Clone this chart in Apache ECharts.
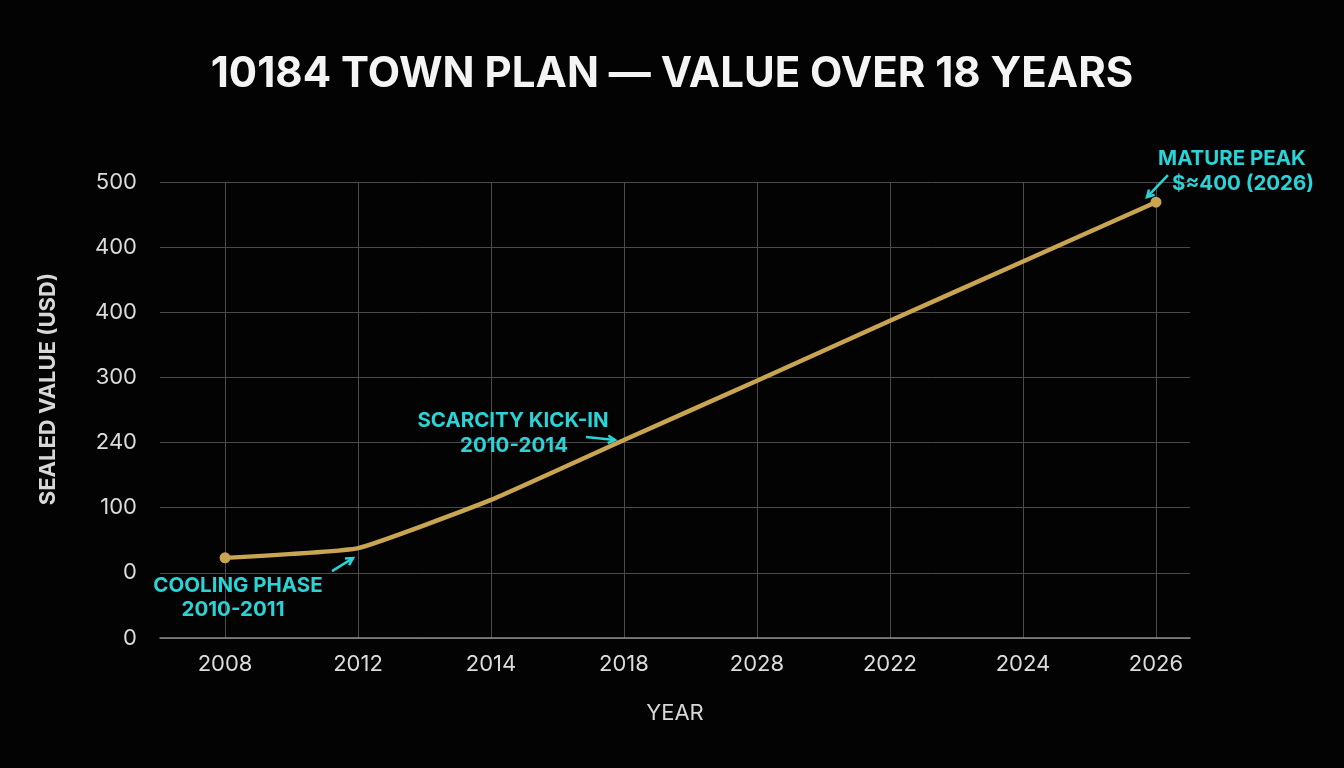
<!DOCTYPE html>
<html>
<head>
<meta charset="utf-8">
<script src="https://cdn.jsdelivr.net/npm/echarts@6/dist/echarts.min.js"></script>
<style>
  html, body { margin: 0; padding: 0; background: #030303; }
  #chart { width: 1344px; height: 768px; }
</style>
</head>
<body>
<div id="chart"></div>
<script>
// chart values (y is the position on the printed scale, 0 = bottom line)
const years = ['2008', '2012', '2014', '2018', '2028', '2022', '2024', '2026']
const yTickLabels = ['0', '0', '100', '240', '300', '400', '400', '500']
const sealedValue = [1.23, 1.38, 2.12, 3.04, 3.95, 4.87, 5.78, 6.69]

const cyan = '#2ad3d6'
const gold = '#c9a552'
const font = 'Inter, "Noto Sans", sans-serif'

const chart = echarts.init(document.getElementById('chart'))

const seriesData = sealedValue.map((v, i) => {
  const edge = i === 0 || i === sealedValue.length - 1
  return { value: [i, v], symbol: edge ? 'circle' : 'none', symbolSize: edge ? 11 : 0 }
})

chart.setOption({
  backgroundColor: '#030303',
  animation: false,
  title: {
    text: '10184 TOWN PLAN — VALUE OVER 18 YEARS',
    left: 'center',
    top: 48,
    textStyle: { color: '#f4f4f4', fontSize: 42, fontWeight: 'bold', fontFamily: font }
  },
  grid: { left: 160, right: 154, top: 182, bottom: 130 },
  xAxis: {
    type: 'value',
    min: -0.489,
    max: 7.256,
    name: 'YEAR',
    nameLocation: 'middle',
    nameGap: 64,
    nameTextStyle: { color: '#d8d8d8', fontSize: 22, fontFamily: font },
    axisLine: { show: true, lineStyle: { color: '#8a8a8a', width: 1.5 } },
    axisTick: { show: false, customValues: years.map((y, i) => i) },
    axisLabel: {
      customValues: years.map((y, i) => i),
      formatter: v => years[Math.round(v)],
      color: '#dcdcdc', fontSize: 22, fontFamily: font, margin: 15
    },
    splitLine: { show: true, lineStyle: { color: '#4a4a4a', width: 1 } }
  },
  yAxis: {
    type: 'value',
    min: 0,
    max: 7,
    interval: 1,
    axisLine: { show: false },
    axisTick: { show: false },
    axisLabel: {
      formatter: v => yTickLabels[Math.round(v)],
      color: '#dcdcdc', fontSize: 22, fontFamily: font, margin: 23
    },
    splitLine: { lineStyle: { color: '#4a4a4a', width: 1 } }
  },
  series: [{
    type: 'line',
    data: seriesData,
    smooth: 0.12,
    lineStyle: { color: gold, width: 4.5 },
    itemStyle: { color: gold }
  }]
})

// annotations anchored to data points
function px(i, v) { return chart.convertToPixel({ gridIndex: 0 }, [i, v]) }

function arrow(from, to) {
  const ang = Math.atan2(to[1] - from[1], to[0] - from[0])
  const h = 8
  const a1 = [to[0] - h * Math.cos(ang - 0.5), to[1] - h * Math.sin(ang - 0.5)]
  const a2 = [to[0] - h * Math.cos(ang + 0.5), to[1] - h * Math.sin(ang + 0.5)]
  return [
    { type: 'polyline', shape: { points: [from, to] }, style: { stroke: cyan, lineWidth: 2.5 } },
    { type: 'polyline', shape: { points: [a1, to, a2] }, style: { stroke: cyan, lineWidth: 2.5, fill: null } }
  ]
}

function label(x, y, text, align) {
  return {
    type: 'text', x: x, y: y,
    style: { text: text, fill: cyan, fontSize: 20.5, fontWeight: 'bold', fontFamily: font,
      align: align || 'center', verticalAlign: 'middle' }
  }
}

const p1 = px(1, sealedValue[1])
const p3 = px(3, sealedValue[3])
const p7 = px(7, sealedValue[7])

chart.setOption({
  graphic: [
    {
      type: 'text', x: 48, y: 389, rotation: Math.PI / 2,
      style: { text: 'SEALED VALUE (USD)', fill: '#d8d8d8', fontSize: 22, fontWeight: 'bold',
        fontFamily: font, align: 'center', verticalAlign: 'middle' }
    },
    label(p1[0] - 120, p1[1] + 38, 'COOLING PHASE'),
    label(p1[0] - 125, p1[1] + 62, '2010-2011'),
    ...arrow([p1[0] - 26, p1[1] + 23], [p1[0] - 5, p1[1] + 10]),
    label(p3[0] - 111, p3[1] - 19, 'SCARCITY KICK-IN'),
    label(p3[0] - 110, p3[1] + 6, '2010-2014'),
    ...arrow([p3[0] - 38, p3[1] - 3], [p3[0] - 9, p3[1]]),
    label(p7[0] + 76, p7[1] - 43, 'MATURE PEAK'),
    label(p7[0] + 16, p7[1] - 18, '$≈400 (2026)', 'left'),
    ...arrow([p7[0] + 12, p7[1] - 27], [p7[0] - 9, p7[1] - 5])
  ]
})
</script>
</body>
</html>
